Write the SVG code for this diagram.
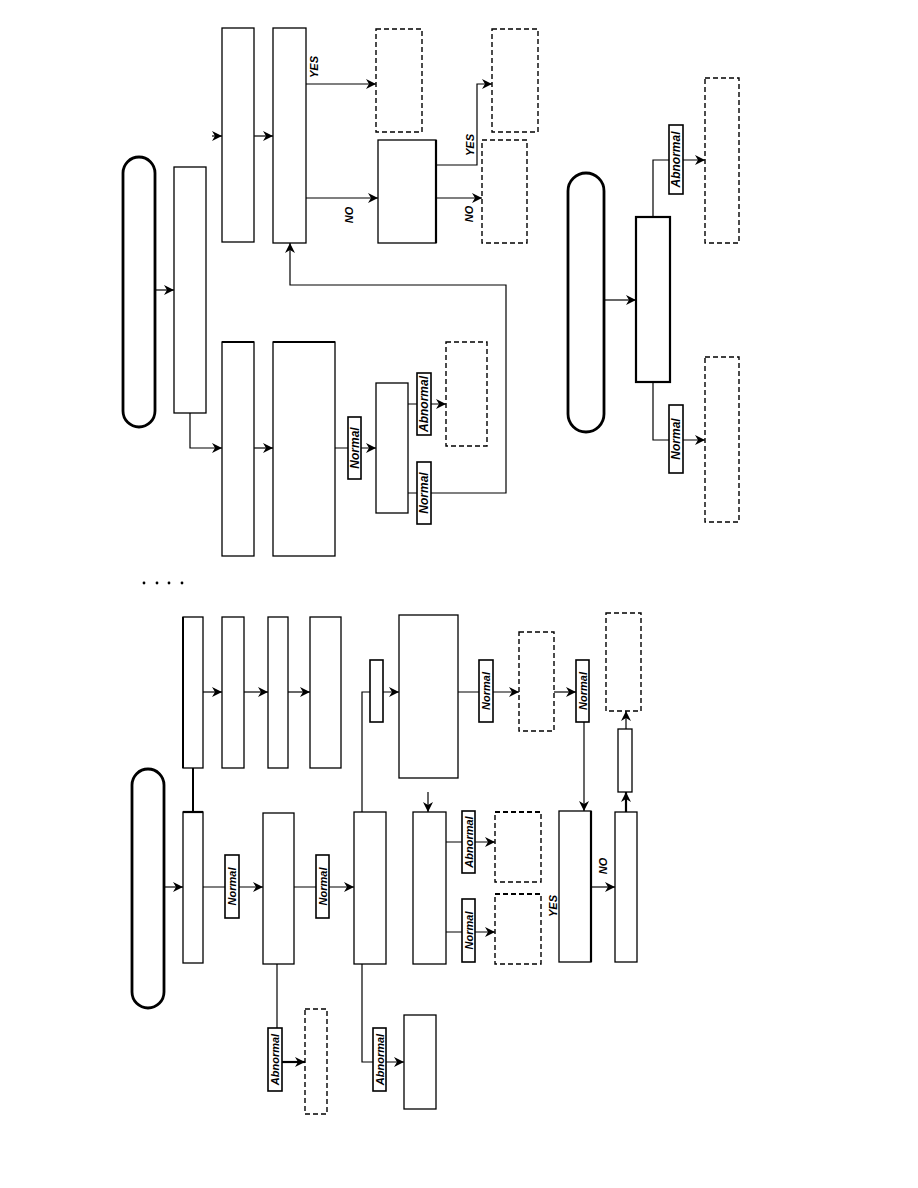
<svg xmlns="http://www.w3.org/2000/svg" width="918" height="1188" viewBox="0 0 918 1188">
<style>
.b{fill:#fff;stroke:#000;stroke-width:1.3}
.t{fill:#fff;stroke:#000;stroke-width:2.8}
.d{fill:#fff;stroke:#000;stroke-width:1.4;stroke-dasharray:5,3}
.lb{fill:#fff;stroke:#000;stroke-width:1.6}
.c{fill:none;stroke:#000;stroke-width:1.2;marker-end:url(#ah)}
.cn{fill:none;stroke:#000;stroke-width:1.2}
.ck{fill:none;stroke:#000;stroke-width:2.2;marker-end:url(#ah)}
.tx{font-family:"Liberation Sans",Arial,sans-serif;font-weight:bold;font-style:italic;font-size:12px;text-anchor:middle;dominant-baseline:central}
.ts{font-size:11px}
</style>
<defs>
<marker id="ah" markerUnits="userSpaceOnUse" markerWidth="10" markerHeight="10" viewBox="0 0 10 10" refX="10" refY="5" orient="auto">
<path d="M0,0 L10,5 L0,10 L3,5 z" fill="#000"/>
</marker>
</defs>

<g id="connectors">
<path class="c" d="M155,290 H174"/>
<path class="c" d="M190,413 V448 H222"/>
<path class="c" d="M254,448 H273"/>
<path class="c" d="M212,136 H222"/>
<path class="c" d="M254,136 H273"/>
<path class="c" d="M306,84 H376"/>
<path class="c" d="M306,198 H378"/>
<path class="c" d="M437,165 H477 V84 H492"/>
<path class="c" d="M437,198 H482"/>
<path class="c" d="M335,448 H376"/>
<path class="c" d="M408,404 H446"/>
<path class="c" d="M408,493 H506 V285 H290 V243"/>
<path class="c" d="M604,300 H636"/>
<path class="c" d="M653,217 V160 H705"/>
<path class="c" d="M653,382 V440 H705"/>
<path class="c" d="M203,692 H222"/>
<path class="c" d="M244,692 H268"/>
<path class="c" d="M288,692 H310"/>
<path class="cn" d="M193,768 V812" style="stroke-width:2"/>
<path class="c" d="M164,887 H183"/>
<path class="c" d="M203,887 H263"/>
<path class="c" d="M294,887 H354"/>
<path class="cn" d="M277,964 V1062"/>
<path class="ck" d="M277,1062 H305"/>
<path class="c" d="M362,964 V1062 H404"/>
<path class="c" d="M362,812 V692 H399"/>
<path class="c" d="M458,692 H519"/>
<path class="c" d="M554,692 H576"/>
<path class="c" d="M584,722 V811"/>
<path class="c" d="M428,792 V812"/>
<path class="c" d="M446,842 H495"/>
<path class="c" d="M446,932 H495"/>
<path class="c" d="M591,887 H615"/>
<path class="ck" d="M626,812 V792"/>
<path class="c" d="M626,729 V711"/>
</g>

<g id="term1"><rect class="t" x="123" y="157" width="32" height="270" rx="16"/></g>
<g id="boxA"><rect class="b" x="174" y="167" width="32" height="246"/></g>
<g id="boxB1"><rect class="b" x="222" y="28" width="32" height="214"/></g>
<g id="boxB2"><rect class="b" x="273" y="28" width="33" height="215"/></g>
<g id="dashE1"><rect class="d" x="376" y="29" width="46" height="103"/></g>
<g id="boxF"><rect class="b" x="378" y="140" width="58" height="103"/><line x1="436" y1="140" x2="436" y2="243" stroke="#000" stroke-width="2.2"/></g>
<g id="dashE2"><rect class="d" x="492" y="29" width="46" height="103"/></g>
<g id="dashE3"><rect class="d" x="482" y="140" width="45" height="103"/></g>
<g id="boxC"><rect class="b" x="222" y="342" width="32" height="214"/><line x1="222" y1="342" x2="254" y2="342" stroke="#000" stroke-width="2"/></g>
<g id="boxD"><rect class="b" x="273" y="342" width="62" height="214"/><line x1="273" y1="342" x2="335" y2="342" stroke="#000" stroke-width="2"/></g>
<g id="boxG"><rect class="b" x="376" y="383" width="32" height="130"/></g>
<g id="dashH"><rect class="d" x="446" y="342" width="41" height="104"/></g>

<g id="lbl1"><rect class="lb" x="348" y="417" width="13" height="62"/><text class="tx" transform="translate(354.5,448) rotate(-90)">Normal</text></g>
<g id="lbl2"><rect class="lb" x="417" y="373" width="14" height="62"/><text class="tx" transform="translate(424,404) rotate(-90)">Abnormal</text></g>
<g id="lbl3"><rect class="lb" x="417" y="462" width="14" height="62"/><text class="tx" transform="translate(424,493) rotate(-90)">Normal</text></g>

<g id="yes1"><text class="tx ts" transform="translate(314,67) rotate(-90)">YES</text></g>
<g id="no1"><text class="tx ts" transform="translate(349,215) rotate(-90)">NO</text></g>
<g id="yes2"><text class="tx ts" transform="translate(470,145) rotate(-90)">YES</text></g>
<g id="no2"><text class="tx ts" transform="translate(469,214) rotate(-90)">NO</text></g>

<g id="term2"><rect class="t" x="568" y="173" width="36" height="259" rx="18"/></g>
<g id="boxI"><rect class="b" x="636" y="217" width="34" height="165" style="stroke-width:2.2"/></g>
<g id="dashJ"><rect class="d" x="705" y="78" width="34" height="165"/></g>
<g id="dashK"><rect class="d" x="705" y="357" width="34" height="165"/></g>
<g id="lbl4"><rect class="lb" x="669" y="125" width="14" height="69"/><text class="tx" transform="translate(676,159.5) rotate(-90)">Abnormal</text></g>
<g id="lbl5"><rect class="lb" x="669" y="405" width="14" height="68"/><text class="tx" transform="translate(676,439) rotate(-90)">Normal</text></g>

<g id="dots" fill="#000"><circle cx="144" cy="583" r="1.4"/><circle cx="157" cy="583" r="1.4"/><circle cx="169" cy="583" r="1.4"/><circle cx="182" cy="583" r="1.4"/></g>

<g id="boxL1"><rect class="b" x="183" y="617" width="20" height="151"/><line x1="183" y1="617" x2="183" y2="768" stroke="#000" stroke-width="2"/></g>
<g id="boxL2"><rect class="b" x="222" y="617" width="22" height="151"/></g>
<g id="boxL3"><rect class="b" x="268" y="617" width="20" height="151"/></g>
<g id="boxL4"><rect class="b" x="310" y="617" width="31" height="151"/></g>

<g id="term3"><rect class="t" x="132" y="769" width="32" height="239" rx="16"/></g>
<g id="boxM1"><rect class="b" x="183" y="812" width="20" height="151"/><line x1="183" y1="812" x2="203" y2="812" stroke="#000" stroke-width="2.2"/></g>
<g id="boxM2"><rect class="b" x="263" y="813" width="31" height="151"/></g>
<g id="boxM3"><rect class="b" x="354" y="812" width="32" height="152"/></g>
<g id="dashN"><rect class="d" x="305" y="1009" width="22" height="105"/></g>
<g id="boxO"><rect class="b" x="404" y="1015" width="32" height="94"/></g>
<g id="lbl6"><rect class="lb" x="225" y="855" width="14" height="63"/><text class="tx ts" transform="translate(232,886.5) rotate(-90)">Normal</text></g>
<g id="lbl7"><rect class="lb" x="316" y="855" width="13" height="63"/><text class="tx ts" transform="translate(322.5,886.5) rotate(-90)">Normal</text></g>
<g id="lbl8"><rect class="lb" x="268" y="1028" width="14" height="63"/><text class="tx ts" transform="translate(275,1059.5) rotate(-90)">Abnormal</text></g>
<g id="lbl9"><rect class="lb" x="373" y="1028" width="13" height="63"/><text class="tx ts" transform="translate(379.5,1059.5) rotate(-90)">Abnormal</text></g>

<g id="boxP"><rect class="lb" x="370" y="660" width="13" height="62"/></g>
<g id="boxQ"><rect class="b" x="399" y="615" width="59" height="163"/></g>
<g id="lbl10"><rect class="lb" x="479" y="660" width="14" height="62"/><text class="tx ts" transform="translate(486,691) rotate(-90)">Normal</text></g>
<g id="dashR"><rect class="d" x="519" y="632" width="35" height="99"/></g>
<g id="lbl11"><rect class="lb" x="576" y="660" width="13" height="62"/><text class="tx ts" transform="translate(582.5,691) rotate(-90)">Normal</text></g>
<g id="dashY"><rect class="d" x="606" y="613" width="35" height="98"/></g>
<g id="boxX"><rect class="b" x="618" y="729" width="14" height="63"/></g>

<g id="boxT"><rect class="b" x="413" y="812" width="33" height="152"/></g>
<g id="lbl12"><rect class="lb" x="462" y="811" width="13" height="62"/><text class="tx ts" transform="translate(468.5,842) rotate(-90)">Abnormal</text></g>
<g id="lbl13"><rect class="lb" x="462" y="899" width="13" height="63"/><text class="tx ts" transform="translate(468.5,930.5) rotate(-90)">Normal</text></g>
<g id="dashU"><rect class="d" x="495" y="812" width="46" height="70"/><line x1="495" y1="812" x2="541" y2="812" stroke="#000" stroke-width="2" stroke-dasharray="5,3"/></g>
<g id="dashV"><rect class="d" x="495" y="894" width="46" height="70"/><line x1="495" y1="894" x2="541" y2="894" stroke="#000" stroke-width="2" stroke-dasharray="5,3"/></g>

<g id="boxS"><rect class="b" x="559" y="811" width="32" height="151"/><line x1="591" y1="811" x2="591" y2="962" stroke="#000" stroke-width="2.2"/></g>
<g id="yes3"><text class="tx ts" transform="translate(553,906) rotate(-90)">YES</text></g>
<g id="no3"><text class="tx ts" transform="translate(603,866) rotate(-90)">NO</text></g>
<g id="boxW"><rect class="b" x="615" y="812" width="22" height="150"/></g>
</svg>
